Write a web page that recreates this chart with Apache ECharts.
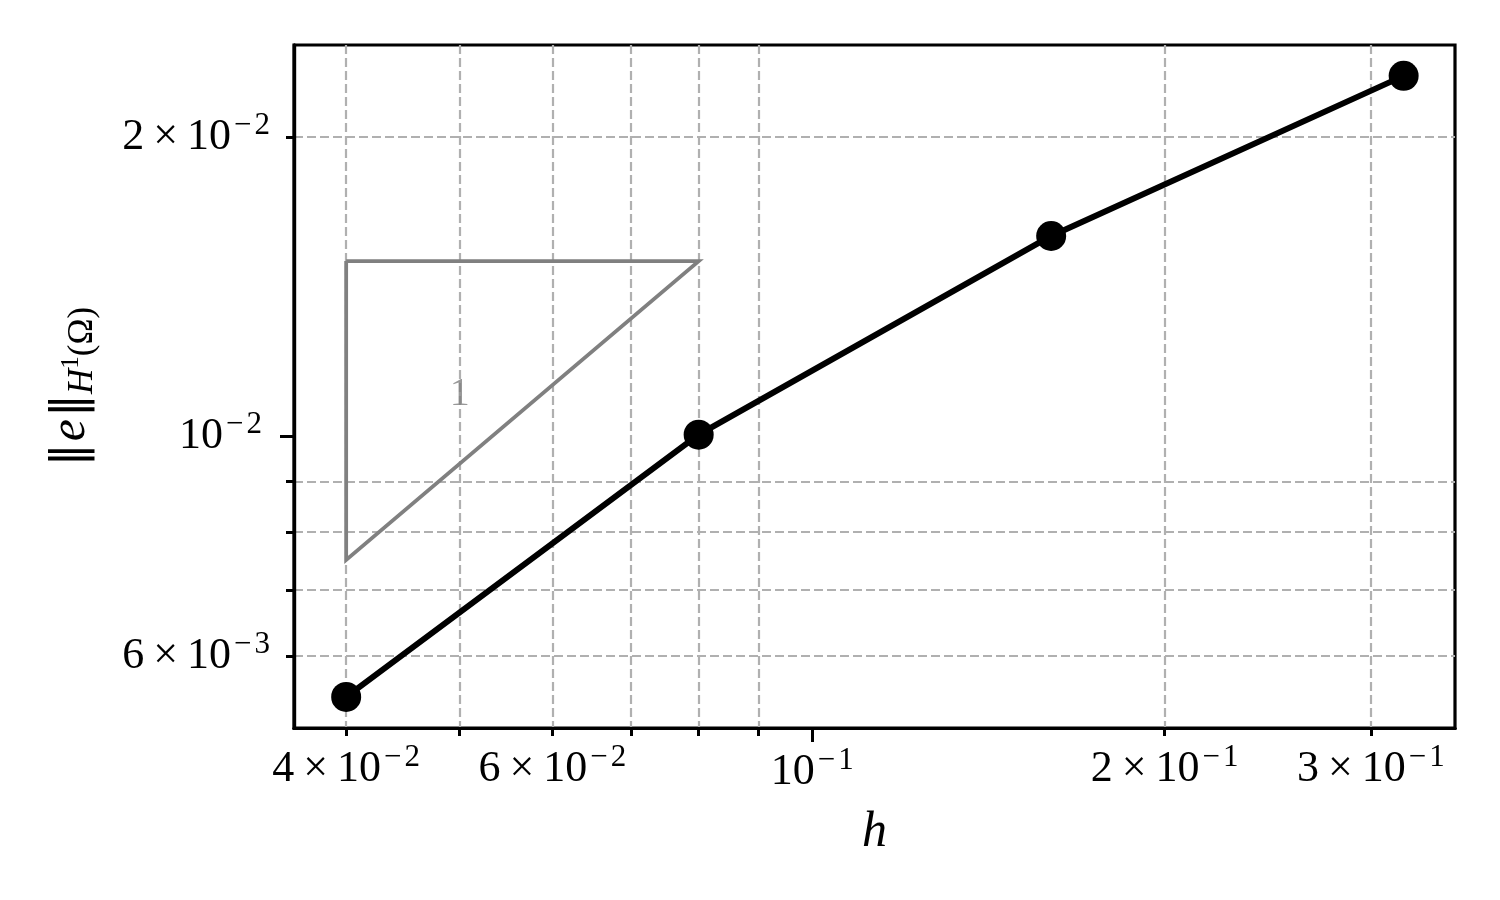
<!DOCTYPE html>
<html><head><meta charset="utf-8">
<script src="https://cdn.jsdelivr.net/npm/echarts@6/dist/echarts.min.js"></script>
<style>html,body{margin:0;padding:0;background:#fff}#c{width:1500px;height:900px}</style>
</head><body><div id="c"></div>
<script>
// ---- data ----
const hValues = [0.04, 0.08, 0.16, 0.32];
const errValues = [0.00546, 0.01003, 0.0159, 0.02305];
const triangleH = [0.04, 0.08, 0.04, 0.04];
const triangleErr = [0.015, 0.015, 0.0075, 0.015];
const slopeLabelPos = [0.05, 0.011];
const slopeLabelText = '1';
const xMinorTicks = [0.04, 0.05, 0.06, 0.07, 0.08, 0.09, 0.2, 0.3];
const xMinorLabelValues = [0.04, 0.06, 0.2, 0.3];
const xMinorLabelTexts = [['4', '2'], ['6', '2'], ['2', '1'], ['3', '1']];
const xMajorTicks = [0.1];
const xMajorLabelTexts = [['', '1']];
const yMinorTicks = [0.006, 0.007, 0.008, 0.009, 0.02];
const yMinorLabelValues = [0.006, 0.02];
const yMinorLabelTexts = [['6', '3'], ['2', '2']];
const yMajorTicks = [0.01];
const yMajorLabelTexts = [['', '2']];
const xRange = [0.0361, 0.354];
const yRange = [0.00508, 0.02476];
const xName = 'h';

const FONT = "'Liberation Serif', 'DejaVu Serif', serif";
const rich = {
  m: { fontSize: 44, lineHeight: 54, verticalAlign: 'middle', fontFamily: FONT, color: '#000' },
  x: { fontSize: 44, lineHeight: 54, verticalAlign: 'middle', fontFamily: FONT, color: '#000', padding: [0, 9, 0, 9] },
  sm: { fontSize: 31, lineHeight: 31, verticalAlign: 'top', fontFamily: FONT, color: '#000', padding: [0, 3, 0, 3] },
  s: { fontSize: 31, lineHeight: 31, verticalAlign: 'top', fontFamily: FONT, color: '#000' }
};
function makeFmt(values, texts) {
  return function (v) {
    const i = values.findIndex(t => Math.abs(t - v) / t < 1e-6);
    if (i < 0) return '';
    const m = texts[i][0], e = texts[i][1];
    return (m ? '{m|' + m + '}{x|×}{m|10}' : '{m|10}') + '{sm|−}{s|' + e + '}';
  };
}
const gridLine = { show: true, lineStyle: { color: '#b0b0b0', width: 2.2, type: [9, 4] } };
const axLine = { show: true, lineStyle: { color: '#000', width: 3.2 } };

function axis(range, ticks, labelValues, labelTexts, tickLen, margin, showGrid, extra) {
  return Object.assign({
    type: 'log', logBase: 10, min: range[0], max: range[1],
    axisLine: axLine,
    axisTick: { show: true, customValues: ticks, length: tickLen, inside: false, lineStyle: { color: '#000', width: 3 } },
    axisLabel: { show: true, customValues: labelValues, margin: margin, formatter: makeFmt(labelValues, labelTexts), rich: rich, hideOverlap: false, showMinLabel: true, showMaxLabel: true },
    splitLine: showGrid ? gridLine : { show: false },
    minorTick: { show: false }, minorSplitLine: { show: false }
  }, extra || {});
}

const chart = echarts.init(document.getElementById('c'), null, { renderer: 'canvas' });
chart.setOption({
  animation: false,
  backgroundColor: '#fff',
  grid: { left: 294, right: 45, top: 45, bottom: 172, show: true, borderColor: '#000', borderWidth: 3.2, backgroundColor: 'transparent' },
  xAxis: [
    axis(xRange, xMinorTicks, xMinorLabelValues, xMinorLabelTexts, 8, 14, true, {
      position: 'bottom', name: xName, nameLocation: 'middle', nameGap: 80,
      nameTextStyle: { fontFamily: FONT, fontStyle: 'italic', fontSize: 50, color: '#000' }
    }),
    axis(xRange, xMajorTicks, xMajorTicks, xMajorLabelTexts, 14, 17, false, { position: 'bottom' })
  ],
  yAxis: [
    axis(yRange, yMinorTicks, yMinorLabelValues, yMinorLabelTexts, 8, 24, true, {
      position: 'left',
      name: '{n|‖}{e|e}{n|‖}{sub|H}{sup|1}{sub2|(Ω)}', nameLocation: 'middle', nameGap: 194, nameRotate: 90,
      nameTextStyle: {
        rich: {
          n: { fontFamily: "'DejaVu Sans', sans-serif", fontSize: 46, lineHeight: 58, verticalAlign: 'middle', color: '#000' },
          e: { fontFamily: FONT, fontSize: 50, lineHeight: 58, verticalAlign: 'middle', fontStyle: 'italic', color: '#000', padding: [0, 2, 0, 2] },
          sub: { fontFamily: FONT, fontSize: 35, lineHeight: 35, verticalAlign: 'bottom', fontStyle: 'italic', color: '#000' },
          sup: { fontFamily: FONT, fontSize: 25, lineHeight: 25, verticalAlign: 'middle', color: '#000' },
          sub2: { fontFamily: FONT, fontSize: 35, lineHeight: 35, verticalAlign: 'bottom', color: '#000' }
        }
      }
    }),
    axis(yRange, yMajorTicks, yMajorTicks, yMajorLabelTexts, 14, 32, false, { position: 'left' })
  ],
  series: [
    {
      type: 'line', name: 'slope', xAxisIndex: 0, yAxisIndex: 0,
      data: triangleH.map((h, i) => [h, triangleErr[i]]),
      showSymbol: false, symbol: 'none',
      lineStyle: { color: '#808080', width: 3.8, join: 'miter' }, z: 2, silent: true
    },
    {
      type: 'line', name: 'error', xAxisIndex: 0, yAxisIndex: 0,
      data: hValues.map((h, i) => [h, errValues[i]]),
      symbol: 'circle', symbolSize: 30, showSymbol: true,
      itemStyle: { color: '#000' },
      lineStyle: { color: '#000', width: 6 }, z: 3
    },
    {
      type: 'scatter', xAxisIndex: 0, yAxisIndex: 0,
      data: [slopeLabelPos],
      symbolSize: 1, itemStyle: { color: 'transparent' },
      label: { show: true, position: 'inside', formatter: slopeLabelText, fontFamily: FONT, fontSize: 40, color: '#808080' },
      z: 4, silent: true
    }
  ]
});
</script>
</body></html>
